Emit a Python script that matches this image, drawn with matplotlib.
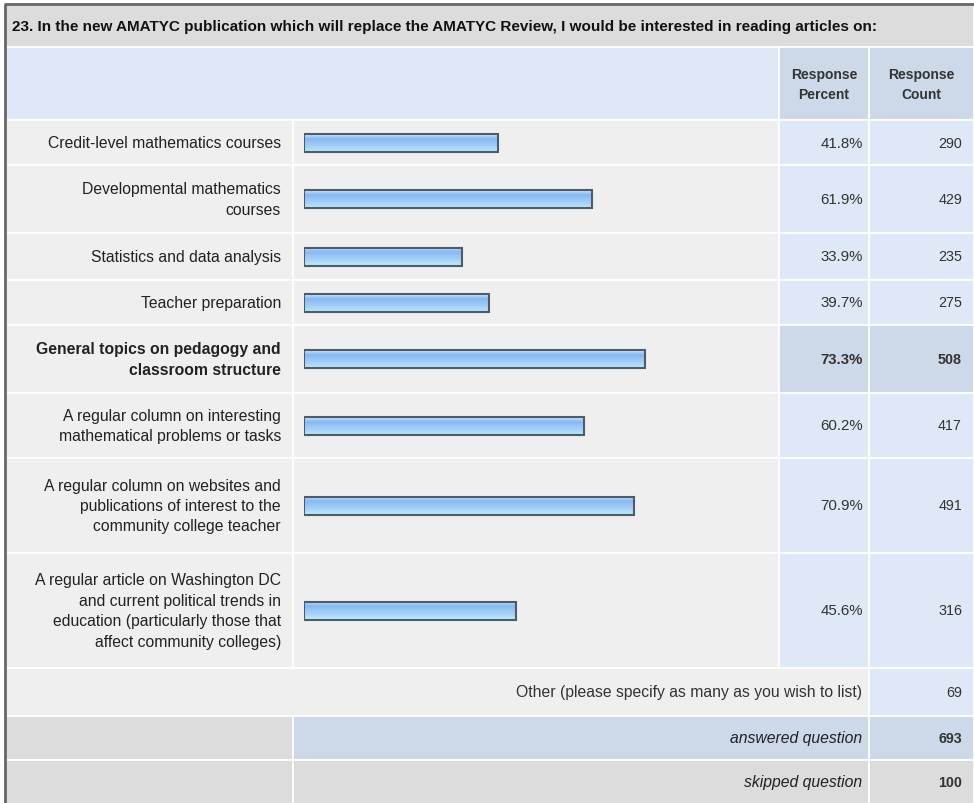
import numpy as np
import matplotlib.pyplot as plt
from matplotlib.patches import Rectangle
from matplotlib.colors import LinearSegmentedColormap

plt.rcParams['font.family'] = ['Liberation Sans', 'DejaVu Sans']

# Survey data
title = ("23. In the new AMATYC publication which will replace the AMATYC Review, "
         "I would be interested in reading articles on:")
labels = [
    "Credit-level mathematics courses",
    "Developmental mathematics\ncourses",
    "Statistics and data analysis",
    "Teacher preparation",
    "General topics on pedagogy and\nclassroom structure",
    "A regular column on interesting\nmathematical problems or tasks",
    "A regular column on websites and\npublications of interest to the\ncommunity college teacher",
    "A regular article on Washington DC\nand current political trends in\neducation (particularly those that\naffect community colleges)",
]
percents = [41.8, 61.9, 33.9, 39.7, 73.3, 60.2, 70.9, 45.6]
counts = [290, 429, 235, 275, 508, 417, 491, 316]
highlight = 4
other_label = "Other (please specify as many as you wish to list)"
other_count = 69
answered = 693
skipped = 100

# Layout (pixels)
W, H = 974, 804
row_heights = [45, 68, 47, 45, 68, 65, 95, 115]
top_rows = 121
col_lab, col_bar, col_pct, col_cnt = 6, 293, 779, 869
bar_x0, bar_full = 304, 465

light_grey = '#efefef'
mid_grey = '#dcdcdc'
light_blue = '#dfe8f6'
dark_blue = '#cdd8e8'
fs_lab = 11.3

fig = plt.figure(figsize=(W / 100, H / 100), dpi=100)
ax = fig.add_axes([0, 0, 1, 1])
ax.set_xlim(0, W)
ax.set_ylim(H, 0)
ax.axis('off')


def cell(x0, y0, x1, y1, color):
    ax.add_patch(Rectangle((x0, y0), x1 - x0, y1 - y0, facecolor=color,
                           edgecolor='white', linewidth=1.2))


# title row
cell(col_lab, 5, W, 48, mid_grey)
ax.text(12, 27, title, fontsize=11, fontweight='bold', va='center', ha='left',
        color='#111111')

# header row
cell(col_lab, 48, col_pct, top_rows, light_blue)
cell(col_pct, 48, col_cnt, top_rows, dark_blue)
cell(col_cnt, 48, W, top_rows, dark_blue)
ax.text((col_pct + col_cnt) / 2, 85, "Response\nPercent", fontsize=10,
        fontweight='bold', ha='center', va='center', linespacing=1.6, color='#333333')
ax.text((col_cnt + W) / 2, 85, "Response\nCount", fontsize=10,
        fontweight='bold', ha='center', va='center', linespacing=1.6, color='#333333')

edges = top_rows + np.concatenate([[0], np.cumsum(row_heights)])
centers = (edges[:-1] + edges[1:]) / 2

for i, (lab, p, c) in enumerate(zip(labels, percents, counts)):
    y0, y1 = edges[i], edges[i + 1]
    blue = dark_blue if i == highlight else light_blue
    cell(col_lab, y0, col_bar, y1, light_grey)
    cell(col_bar, y0, col_pct, y1, light_grey)
    cell(col_pct, y0, col_cnt, y1, blue)
    cell(col_cnt, y0, W, y1, blue)
    weight = 'bold' if i == highlight else 'normal'
    ax.text(281, centers[i], lab, fontsize=fs_lab, ha='right', va='center',
            linespacing=1.45, fontweight=weight, color='#222222')
    ax.text(863, centers[i], f"{p}%", fontsize=10.8, ha='right', va='center',
            fontweight=weight, color='#333333')
    ax.text(962, centers[i], str(c), fontsize=10.3, ha='right', va='center',
            fontweight=weight, color='#333333')

# other row
y_other = edges[-1]
cell(col_lab, y_other, col_cnt, y_other + 48, light_grey)
cell(col_cnt, y_other, W, y_other + 48, light_blue)
ax.text(862, y_other + 24, other_label, fontsize=fs_lab, ha='right', va='center', color='#333333')
ax.text(962, y_other + 24, str(other_count), fontsize=10.3, ha='right', va='center', color='#333333')

# answered / skipped
y_ans = y_other + 48
cell(col_lab, y_ans, col_bar, y_ans + 44, mid_grey)
cell(col_bar, y_ans, col_cnt, y_ans + 44, dark_blue)
cell(col_cnt, y_ans, W, y_ans + 44, dark_blue)
ax.text(862, y_ans + 22, "answered question", fontsize=fs_lab, style='italic',
        ha='right', va='center', color='#222222')
ax.text(962, y_ans + 22, str(answered), fontsize=10.3, fontweight='bold',
        ha='right', va='center', color='#333333')
y_sk = y_ans + 44
cell(col_lab, y_sk, col_bar, H + 5, mid_grey)
cell(col_bar, y_sk, col_cnt, H + 5, mid_grey)
cell(col_cnt, y_sk, W, H + 5, mid_grey)
ax.text(862, y_sk + 22, "skipped question", fontsize=fs_lab, style='italic',
        ha='right', va='center', color='#222222')
ax.text(962, y_sk + 22, str(skipped), fontsize=10.3, fontweight='bold',
        ha='right', va='center', color='#333333')

# outer border
ax.plot([5, 5, W + 5], [H + 5, 5, 5], color='#666666', linewidth=2)

# bars with vertical gradient fill
axb = fig.add_axes([bar_x0 / W, 0, bar_full / W, 1])
axb.set_xlim(0, 100)
axb.set_ylim(H, 0)
axb.axis('off')
axb.patch.set_alpha(0)
grad = LinearSegmentedColormap.from_list(
    'bar', ['#d2e7fb', '#86b9f2', '#98c6f6', '#a9d4f8', '#b8ecf8'])
bars = axb.barh(centers, percents, height=18, color='none',
                edgecolor='#4d5b6b', linewidth=1.5, zorder=3)
for b in bars:
    x, y, w, h = b.get_x(), b.get_y(), b.get_width(), b.get_height()
    im = axb.imshow(np.linspace(0, 1, 64).reshape(-1, 1), cmap=grad, aspect='auto',
                    extent=(x, x + w, y + h, y), zorder=2)
    im.set_clip_path(b)
axb.set_xlim(0, 100)
axb.set_ylim(H, 0)

fig.savefig('out.png', dpi=100)
